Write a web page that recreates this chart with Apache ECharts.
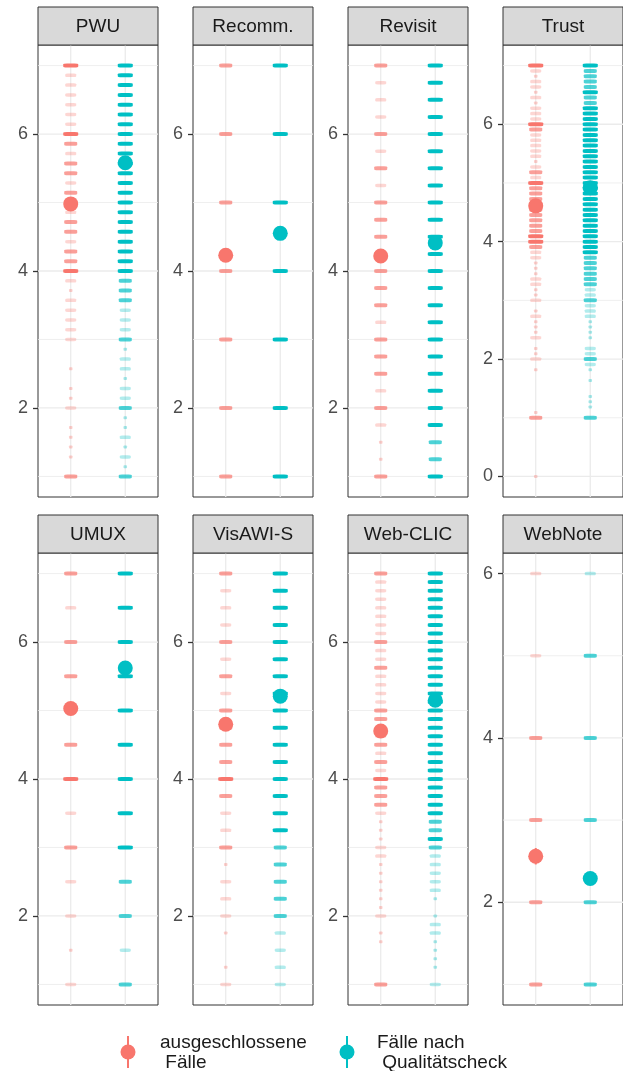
<!DOCTYPE html>
<html><head><meta charset="utf-8">
<script src="https://cdn.jsdelivr.net/npm/echarts@6/dist/echarts.min.js"></script>
<style>html,body{margin:0;padding:0;background:#fff}#c{width:623px;height:1071px}</style>
</head><body><div id="c"></div>
<script>
// ---------------- DATA ----------------
const panelNames = ['PWU', 'Recomm.', 'Revisit', 'Trust', 'UMUX', 'VisAWI-S', 'Web-CLIC', 'WebNote'];
const groupNames = ['ausgeschlossene\n Fälle', 'Fälle nach\n Qualitätscheck'];
const groupX = [1, 2];
// answer levels: from levelTop downwards in steps of 1/levelDiv
const levelTop = [7, 7, 7, 7, 7, 7, 7, 6];
const levelDiv = [7, 1, 4, 11, 2, 4, 8, 1];
const yMin = [0.7, 0.7, 0.7, -0.35, 0.7, 0.7, 0.7, 0.75];
const yMax = [7.3, 7.3, 7.3, 7.35, 7.3, 7.3, 7.3, 6.25];
const yTicks = [[2,4,6],[2,4,6],[2,4,6],[0,2,4,6],[2,4,6],[2,4,6],[2,4,6],[2,4,6]];

// density of jittered responses per level (0 none .. 4 dense), top level first
const pwuExcluded  = [4,2,2,2,2,2,2, 4,3,2,3,3,2,3, 3,2,3,3,2,3,3, 4,2,1,2,2,2,2, 2,0,0,1,0,1,1, 2,0,1,1,1,1,0, 3];
const pwuChecked   = [4,4,4,4,4,4,4, 4,4,4,4,4,4,4, 4,4,4,4,4,4,4, 4,3,3,3,2,2,2, 3,1,2,2,1,2,2, 3,1,1,2,1,2,1, 3];
const recExcluded  = [3,3,3,3,3,3,3];
const recChecked   = [4,4,4,4,4,4,4];
const revExcluded  = [3,2,2,2, 3,2,3,2, 3,3,3,3, 3,3,3,2, 3,3,3,2, 3,2,1,1, 3];
const revChecked   = [4,4,4,4, 4,4,4,4, 4,4,4,4, 4,4,4,4, 4,4,4,4, 4,4,3,3, 4];
const trustExcluded = [4,2,1,2,2,1,2,1,2,2,2, 4,3,2,2,2,2,2,1,2,3,2, 4,3,3,3,3,3,3,3,3,3,4,
                       4,3,2,2,1,1,1,2,2,1,1, 2,0,1,2,1,1,1,2,0,1,1, 2,0,1,0,0,0,0,0,0,0,1,
                       3,0,0,0,0,0,0,0,0,0,0, 1];
const trustChecked  = [4,3,3,3,3,4,3,3,4,4,4, 4,4,4,4,4,4,4,4,4,4,4, 4,4,4,4,4,4,4,4,4,4,4,
                       4,4,4,3,3,3,3,3,3,2,2, 3,2,2,2,1,1,1,1,0,2,2, 3,2,1,0,1,0,0,1,1,1,0,
                       3,0,0,0,0,0,0,0,0,0,0, 0];
const umuxExcluded = [3,2, 3,3, 3,3, 4,2, 3,2, 2,1, 2];
const umuxChecked  = [4,4, 4,4, 4,4, 4,4, 4,3, 3,2, 3];
const visExcluded  = [3,2,2,2, 3,2,3,2, 3,3,3,3, 4,3,2,2, 3,1,2,2, 2,1,0,1, 2];
const visChecked   = [4,4,4,4, 4,4,4,4, 4,4,4,4, 4,4,4,4, 3,3,3,3, 3,2,2,2, 2];
const clicExcluded = [3,2,2,2,2,2,2,2, 3,2,2,3,2,2,2,2, 3,3,2,2,3,2,3,2, 4,3,3,3,2,1,1,1,
                      2,2,1,1,1,1,1,1, 2,0,1,1,0,0,0,0, 3];
const clicChecked  = [4,4,4,4,4,4,4,4, 4,4,4,4,4,4,4,4, 4,4,4,4,4,4,4,4, 4,4,4,4,4,3,3,4,
                      3,2,2,2,2,2,1,0, 1,2,2,1,1,1,1,0, 2];
const noteExcluded = [2,2,3,3,3,3];
const noteChecked  = [2,3,3,3,3,3];

const densityExcluded = [pwuExcluded, recExcluded, revExcluded, trustExcluded, umuxExcluded, visExcluded, clicExcluded, noteExcluded];
const densityChecked  = [pwuChecked, recChecked, revChecked, trustChecked, umuxChecked, visChecked, clicChecked, noteChecked];

// group means with confidence interval half-widths
const meanExcluded = [4.98, 4.23, 4.22, 4.61, 5.03, 4.80, 4.70, 2.56];
const meanChecked  = [5.58, 4.55, 4.41, 4.92, 5.62, 5.21, 5.15, 2.29];
const ciExcluded   = [0.09, 0.09, 0.09, 0.08, 0.09, 0.08, 0.07, 0.10];
const ciChecked    = [0.05, 0.05, 0.05, 0.04, 0.06, 0.05, 0.04, 0.06];

// ---------------- STYLE / LAYOUT ----------------
const COLORS = ['#F8766D', '#00BFC4'];
const FONT = '"Liberation Sans", Arial, Helvetica, sans-serif';
const colLeft = [38, 193, 348, 503];
const rowTop = [45, 553];
const panelW = 120, panelH = 452, stripH = 38;
const dashW = [0, 3.5, 11, 13, 15];
const dashH = [0, 3, 3.5, 4, 4];
const dashO = [0, 0.35, 0.3, 0.7, 1];

function renderGridLine(params, api) {
  const cs = params.coordSys;
  const orient = api.value(2), major = api.value(3);
  const st = { stroke: '#ebebeb', lineWidth: major ? 1.3 : 0.8 };
  if (orient === 0) {
    const y = api.coord([1, api.value(1)])[1];
    return { type: 'line', shape: { x1: cs.x, y1: y, x2: cs.x + cs.width, y2: y }, style: st };
  }
  const x = api.coord([api.value(0), 1])[0];
  return { type: 'line', shape: { x1: x, y1: cs.y, x2: x, y2: cs.y + cs.height }, style: st };
}
function renderPointRange(params, api) {
  const color = api.visual('color');
  const c = api.coord([api.value(0), api.value(1)]);
  const lo = api.coord([api.value(0), api.value(2)]);
  const hi = api.coord([api.value(0), api.value(3)]);
  return { type: 'group', children: [
    { type: 'line', shape: { x1: c[0], y1: lo[1], x2: c[0], y2: hi[1] }, style: { stroke: color, lineWidth: 2 } },
    { type: 'circle', shape: { cx: c[0], cy: c[1], r: 7.5 }, style: { fill: color } }
  ]};
}

const grids = [], xAxes = [], yAxes = [], series = [], graphics = [];
panelNames.forEach((name, i) => {
  const r = Math.floor(i / 4), c = i % 4;
  const left = colLeft[c], top = rowTop[r];
  grids.push({ left: left, top: top, width: panelW, height: panelH, show: true,
    backgroundColor: '#fff', borderColor: '#333', borderWidth: 1, containLabel: false, outerBoundsMode: 'none' });
  xAxes.push({ gridIndex: i, type: 'value', min: 0.4, max: 2.6, show: false });
  yAxes.push({ gridIndex: i, type: 'value', min: yMin[i], max: yMax[i],
    splitLine: { show: false }, axisLine: { show: false },
    axisTick: { show: true, length: 5, customValues: yTicks[i], lineStyle: { color: '#333', width: 1.3 } },
    axisLabel: { customValues: yTicks[i], color: '#4d4d4d', fontSize: 18, fontFamily: FONT, margin: 10 } });

  // background grid lines
  const gl = [];
  for (let v = Math.ceil(yMin[i]); v <= Math.floor(yMax[i]); v++) gl.push([1, v, 0, yTicks[i].includes(v) ? 1 : 0]);
  groupX.forEach(x => gl.push([x, 1, 1, 1]));
  series.push({ type: 'custom', xAxisIndex: i, yAxisIndex: i, z: 1, silent: true, renderItem: renderGridLine, data: gl });

  // jittered responses as dashes per level
  [densityExcluded[i], densityChecked[i]].forEach((dens, g) => {
    const data = [];
    dens.forEach((d, k) => {
      if (!d) return;
      data.push({ value: [groupX[g], levelTop[i] - k / levelDiv[i]], symbolSize: [dashW[d], dashH[d]], itemStyle: { opacity: dashO[d] } });
    });
    series.push({ type: 'scatter', name: groupNames[g], xAxisIndex: i, yAxisIndex: i, z: 2, symbol: 'roundRect',
      itemStyle: { color: COLORS[g] }, data: data, silent: true });
  });
  // means with CI
  [[meanExcluded, ciExcluded], [meanChecked, ciChecked]].forEach(([m, ci], g) => {
    series.push({ type: 'custom', name: groupNames[g], xAxisIndex: i, yAxisIndex: i, z: 3,
      itemStyle: { color: COLORS[g] }, renderItem: renderPointRange,
      data: [[groupX[g], m[i], m[i] - ci[i], m[i] + ci[i]]] });
  });

  // facet strip
  graphics.push({ type: 'rect', shape: { x: left, y: top - stripH, width: panelW, height: stripH },
    style: { fill: '#d9d9d9', stroke: '#333', lineWidth: 1 }, z: 10 });
  graphics.push({ type: 'text', x: left + panelW / 2, y: top - stripH / 2 + 1, z: 11,
    style: { text: name, font: '19px ' + FONT, fill: '#1a1a1a', align: 'center', verticalAlign: 'middle' } });
});

// legend
const legendX = [128, 347], legendTextX = [160, 377], legendY = 1052;
groupNames.forEach((n, g) => {
  graphics.push({ type: 'line', shape: { x1: legendX[g], y1: legendY - 16, x2: legendX[g], y2: legendY + 16 },
    style: { stroke: COLORS[g], lineWidth: 2 } });
  graphics.push({ type: 'circle', shape: { cx: legendX[g], cy: legendY, r: 7.5 }, style: { fill: COLORS[g] } });
  graphics.push({ type: 'text', x: legendTextX[g], y: legendY + 1,
    style: { text: n, font: '19px ' + FONT, fill: '#1a1a1a', align: 'left', verticalAlign: 'middle', lineHeight: 20.5 } });
});

const chart = echarts.init(document.getElementById('c'), null, { renderer: 'canvas' });
chart.setOption({
  animation: false,
  backgroundColor: '#fff',
  grid: grids, xAxis: xAxes, yAxis: yAxes, series: series, graphic: graphics
});
</script></body></html>
